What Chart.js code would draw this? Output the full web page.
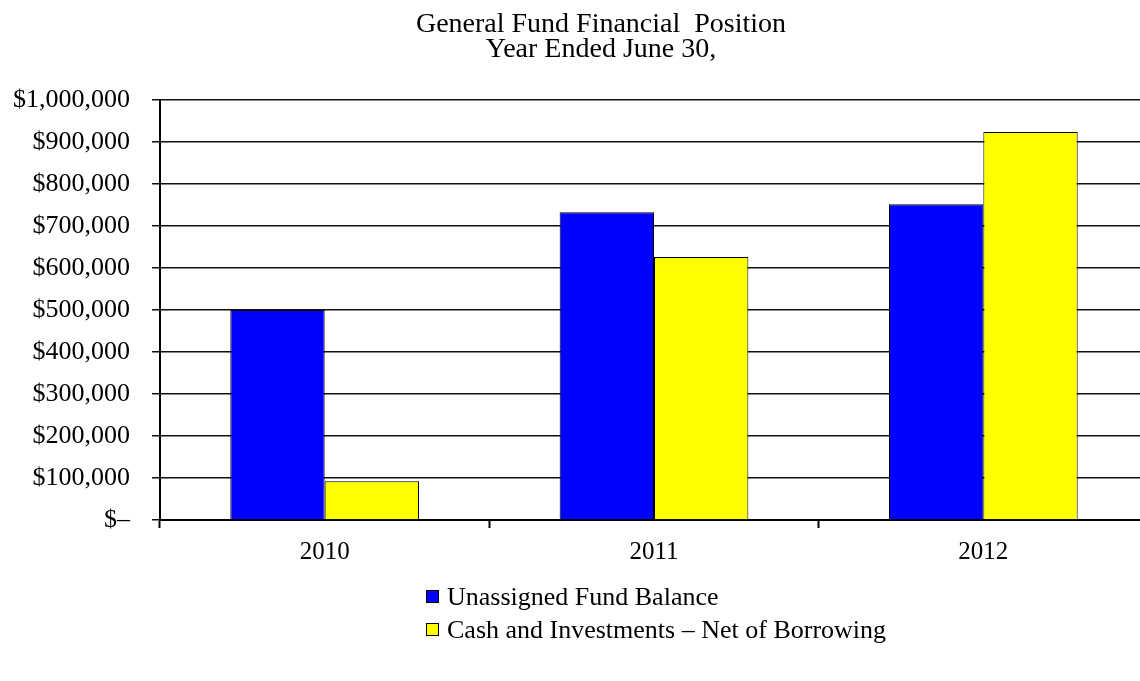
<!DOCTYPE html>
<html>
<head>
<meta charset="utf-8">
<script src="https://cdn.jsdelivr.net/npm/chart.js@4"></script>
<style>
	body { margin: 0; background: #fff; }
	#wrap { position: relative; width: 1140px; height: 681px; overflow: hidden; }
	#title { position: absolute; left: 351px; top: 10px; width: 500px; text-align: center; white-space: pre;
		font-family: "Liberation Serif", serif; font-size: 28px; line-height: 25px; color: #000; }
	#legend { position: absolute; left: 426px; top: 580px; font-family: "Liberation Serif", serif; font-size: 26px; color: #000; }
	#legend div { height: 33px; display: flex; align-items: center; white-space: nowrap; }
	#legend span.box { display: inline-block; width: 11px; height: 11px; border: 1px solid #000; margin-right: 8px; }
</style>
</head>
<body>
<div id="wrap">
	<!-- Canvas etwas breiter, rechts abgeschnitten wie im Original -->
	<canvas id="chart" width="1148" height="681"></canvas>
	<div id="title"></div>
	<div id="legend"></div>
</div>
<script>
// Jahre und Werte aus dem Diagramm
var titleLines = ["General Fund Financial  Position", "Year Ended June 30,"];
var years = ["2010", "2011", "2012"];
var seriesNames = ["Unassigned Fund Balance", "Cash and Investments \u2013 Net of Borrowing"];
var fundBalance = [500000, 733000, 752000];
var cashNet = [92000, 626000, 924000];
var seriesColors = ["#0000ff", "#ffff00"];

var font = "'Liberation Serif', 'Times New Roman', serif";

document.getElementById("title").textContent = titleLines.join("\n");

var chart = new Chart(document.getElementById("chart"), {
	type: "bar",
	data: {
		labels: years,
		datasets: [
			{
				label: seriesNames[0],
				data: fundBalance,
				backgroundColor: seriesColors[0],
				borderColor: "#000",
				borderWidth: 1
			},
			{
				label: seriesNames[1],
				data: cashNet,
				backgroundColor: seriesColors[1],
				borderColor: "#000",
				borderWidth: 1
			}
		]
	},
	options: {
		responsive: false,
		animation: false,
		layout: { padding: { left: -9, right: 0, top: 100, bottom: 105 } },
		datasets: { bar: { barPercentage: 1, categoryPercentage: 0.573 } },
		plugins: {
			legend: { display: false },
			tooltip: { enabled: false }
		},
		scales: {
			x: {
				grid: { offset: true, drawOnChartArea: false, color: "#000", tickLength: 8, tickWidth: 2 },
				border: { color: "#000", width: 2 },
				ticks: { color: "#000", font: { family: font, size: 25 }, padding: 9 }
			},
			y: {
				min: 0,
				max: 1000000,
				grid: { color: "#111", lineWidth: 1.5, tickLength: 8 },
				border: { color: "#000", width: 2 },
				ticks: {
					stepSize: 100000,
					color: "#000",
					padding: 22,
					font: { family: font, size: 26 },
					callback: function (v) {
						if (v === 0) return "$\u2013";
						return "$" + v.toLocaleString("en-US");
					}
				}
			}
		}
	}
});

// Legende untereinander wie im Original
var legendBox = document.getElementById("legend");
chart.data.datasets.forEach(function (ds, i) {
	var row = document.createElement("div");
	var box = document.createElement("span");
	box.className = "box";
	box.style.background = seriesColors[i];
	row.appendChild(box);
	row.appendChild(document.createTextNode(ds.label));
	legendBox.appendChild(row);
});
</script>
</body>
</html>
